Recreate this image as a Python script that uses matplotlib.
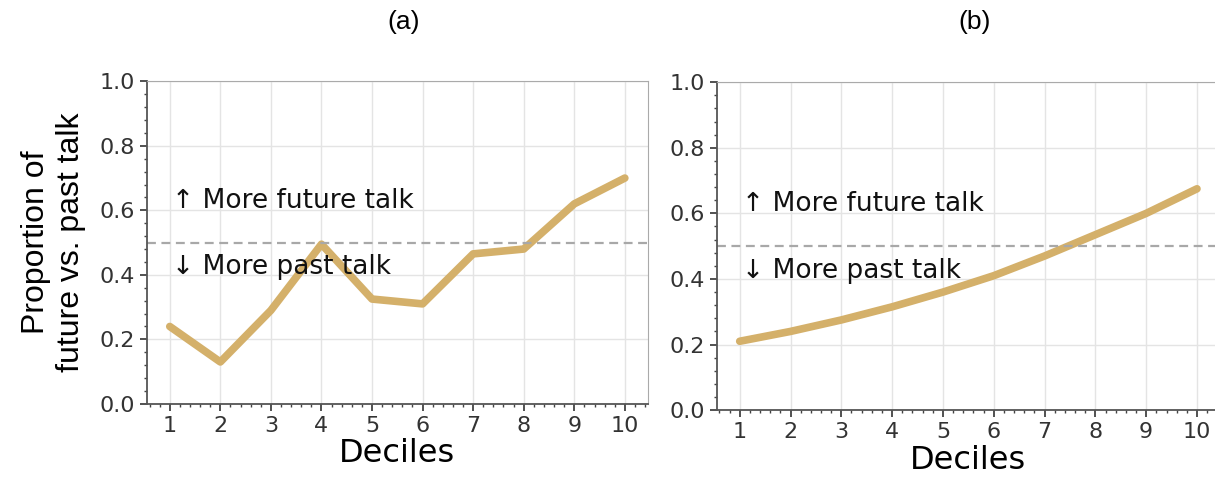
import matplotlib.pyplot as plt
from matplotlib.ticker import AutoMinorLocator, MultipleLocator

# deciles and proportion of future vs past talk
deciles = [1, 2, 3, 4, 5, 6, 7, 8, 9, 10]
observed = [0.24, 0.13, 0.29, 0.495, 0.325, 0.31, 0.465, 0.48, 0.62, 0.70]
fitted = [0.21, 0.24, 0.275, 0.315, 0.36, 0.41, 0.47, 0.535, 0.60, 0.675]
panel_titles = ['(a)', '(b)']

line_color = '#d4b06a'
label_font = ['Liberation Sans', 'DejaVu Sans']

fig = plt.figure(figsize=(12.15, 4.78), dpi=100)
ax_a = fig.add_axes([0.121, 0.155, 0.412, 0.675])
ax_b = fig.add_axes([0.590, 0.142, 0.414, 0.686])

for ax, vals in [(ax_a, observed), (ax_b, fitted)]:
    ax.plot(deciles, vals, color=line_color, lw=5.5, solid_capstyle='round')
    ax.axhline(0.5, color='#a8a8a8', lw=1.6, ls=(0, (4, 2.5)))
    ax.set_ylim(0, 1.0)
    ax.set_xlim(0.55, 10.45)
    ax.set_xticks(deciles)
    ax.yaxis.set_major_locator(MultipleLocator(0.2))
    ax.xaxis.set_minor_locator(AutoMinorLocator(5))
    ax.yaxis.set_minor_locator(AutoMinorLocator(5))
    ax.grid(True, which='major', color='#e4e4e4', lw=1)
    ax.set_axisbelow(True)
    ax.tick_params(which='major', labelsize=16, length=5, width=1.2, colors='#333333')
    ax.tick_params(which='minor', length=2.5, width=1, colors='#444444')
    for s in ['top', 'right']:
        ax.spines[s].set_color('#aaaaaa')
    for s in ['left', 'bottom']:
        ax.spines[s].set_color('#555555')
        ax.spines[s].set_linewidth(1.3)
    ax.text(1.05, 0.63, '\u2191 More future talk', fontsize=19, va='center', color='#111111')
    ax.text(1.05, 0.425, '\u2193 More past talk', fontsize=19, va='center', color='#111111')
    ax.set_xlabel('Deciles', fontsize=23, labelpad=2)

ax_a.set_ylabel('Proportion of\nfuture vs. past talk', fontsize=23, family=label_font, labelpad=10)

fig.text(0.332, 0.955, panel_titles[0], fontsize=19, family=label_font, ha='center', va='center')
fig.text(0.802, 0.955, panel_titles[1], fontsize=19, family=label_font, ha='center', va='center')

fig.savefig('out.png', dpi=100)
